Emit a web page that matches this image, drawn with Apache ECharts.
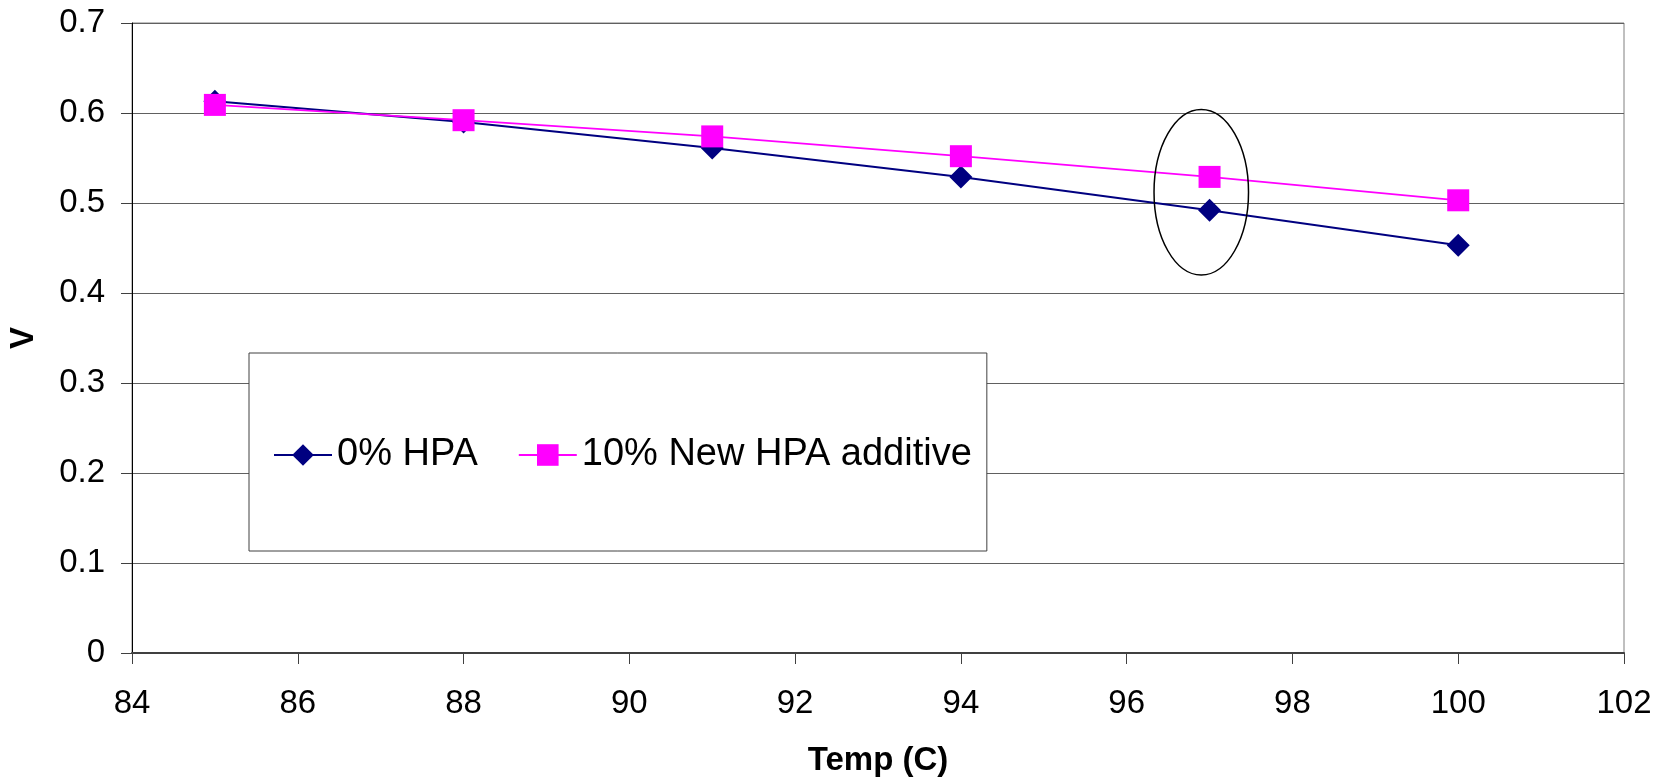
<!DOCTYPE html>
<html>
<head>
<meta charset="utf-8">
<script src="https://cdn.jsdelivr.net/npm/echarts@6/dist/echarts.min.js"></script>
<style>
html,body{margin:0;padding:0;background:#fff;}
#chart{width:1668px;height:777px;}
</style>
</head>
<body>
<div id="chart"></div>
<script>
// ---- data ----
var temps = [85, 88, 91, 94, 97, 100];
var hpa0 = [0.613, 0.590, 0.561, 0.529, 0.492, 0.453];
var hpa10 = [0.609, 0.592, 0.574, 0.552, 0.529, 0.503];
var seriesNames = ['0% HPA', '10% New HPA additive'];
var xAxisName = 'Temp (C)';
var yAxisName = 'V';
// annotation ellipse: [centerX, centerY, radiusX, radiusY] in data units
var ellipseAnno = [96.9, 0.512, 0.57, 0.092];

function pairs(xs, ys) { return xs.map(function (x, i) { return [x, ys[i]]; }); }

var FONT = '"Liberation Sans", Arial, sans-serif';
var chart = echarts.init(document.getElementById('chart'), null, { renderer: 'canvas' });

chart.setOption({
  animation: false,
  backgroundColor: '#ffffff',
  grid: { left: 132, right: 44, top: 23, bottom: 124, containLabel: false, outerBoundsMode: 'none',
          show: true, borderColor: '#808080', borderWidth: 1 },
  legend: {
    left: 249, top: 353,
    padding: [82, 15, 76, 24],
    backgroundColor: '#ffffff',
    borderColor: '#404040',
    borderWidth: 1,
    borderRadius: 0,
    itemWidth: 58,
    itemHeight: 27,
    itemGap: 40,
    textStyle: { fontFamily: FONT, fontSize: 38, color: '#000', lineHeight: 40 },
    data: seriesNames
  },
  xAxis: {
    type: 'value', min: 84, max: 102, interval: 2,
    name: xAxisName, nameLocation: 'middle', nameGap: 91,
    nameTextStyle: { fontFamily: FONT, fontSize: 33, fontWeight: 'bold', color: '#000' },
    axisLine: { show: true, lineStyle: { color: '#404040', width: 2 } },
    axisTick: { show: true, length: 11, inside: false, lineStyle: { color: '#404040', width: 1 } },
    axisLabel: { fontFamily: FONT, fontSize: 33, color: '#000', margin: 34 },
    splitLine: { show: false }
  },
  yAxis: {
    type: 'value', min: 0, max: 0.7, interval: 0.1,
    name: yAxisName, nameLocation: 'middle', nameGap: 92,
    nameTextStyle: { fontFamily: FONT, fontSize: 33, fontWeight: 'bold', color: '#000' },
    axisLine: { show: true, lineStyle: { color: '#000', width: 1 } },
    axisTick: { show: true, length: 11, inside: false, lineStyle: { color: '#404040', width: 1 } },
    axisLabel: { fontFamily: FONT, fontSize: 33, color: '#000', margin: 27 },
    splitLine: { show: true, lineStyle: { color: '#606060', width: 1 } }
  },
  series: [
    {
      name: seriesNames[0], type: 'line', data: pairs(temps, hpa0),
      symbol: 'diamond', symbolSize: 23,
      lineStyle: { color: '#000080', width: 2 },
      itemStyle: { color: '#000080' },
      z: 2
    },
    {
      name: seriesNames[1], type: 'line', data: pairs(temps, hpa10),
      symbol: 'rect', symbolSize: 22,
      lineStyle: { color: '#FF00FF', width: 1.8 },
      itemStyle: { color: '#FF00FF' },
      z: 3
    },
    {
      type: 'custom', silent: true, z: 4,
      data: [ellipseAnno],
      renderItem: function (params, api) {
        var c = api.coord([api.value(0), api.value(1)]);
        var s = api.size([api.value(2), api.value(3)]);
        return {
          type: 'ellipse',
          shape: { cx: c[0], cy: c[1], rx: s[0], ry: s[1] },
          style: { fill: null, stroke: '#000', lineWidth: 1.5 }
        };
      },
      encode: { x: 0, y: 1 }
    }
  ]
});
</script>
</body>
</html>
